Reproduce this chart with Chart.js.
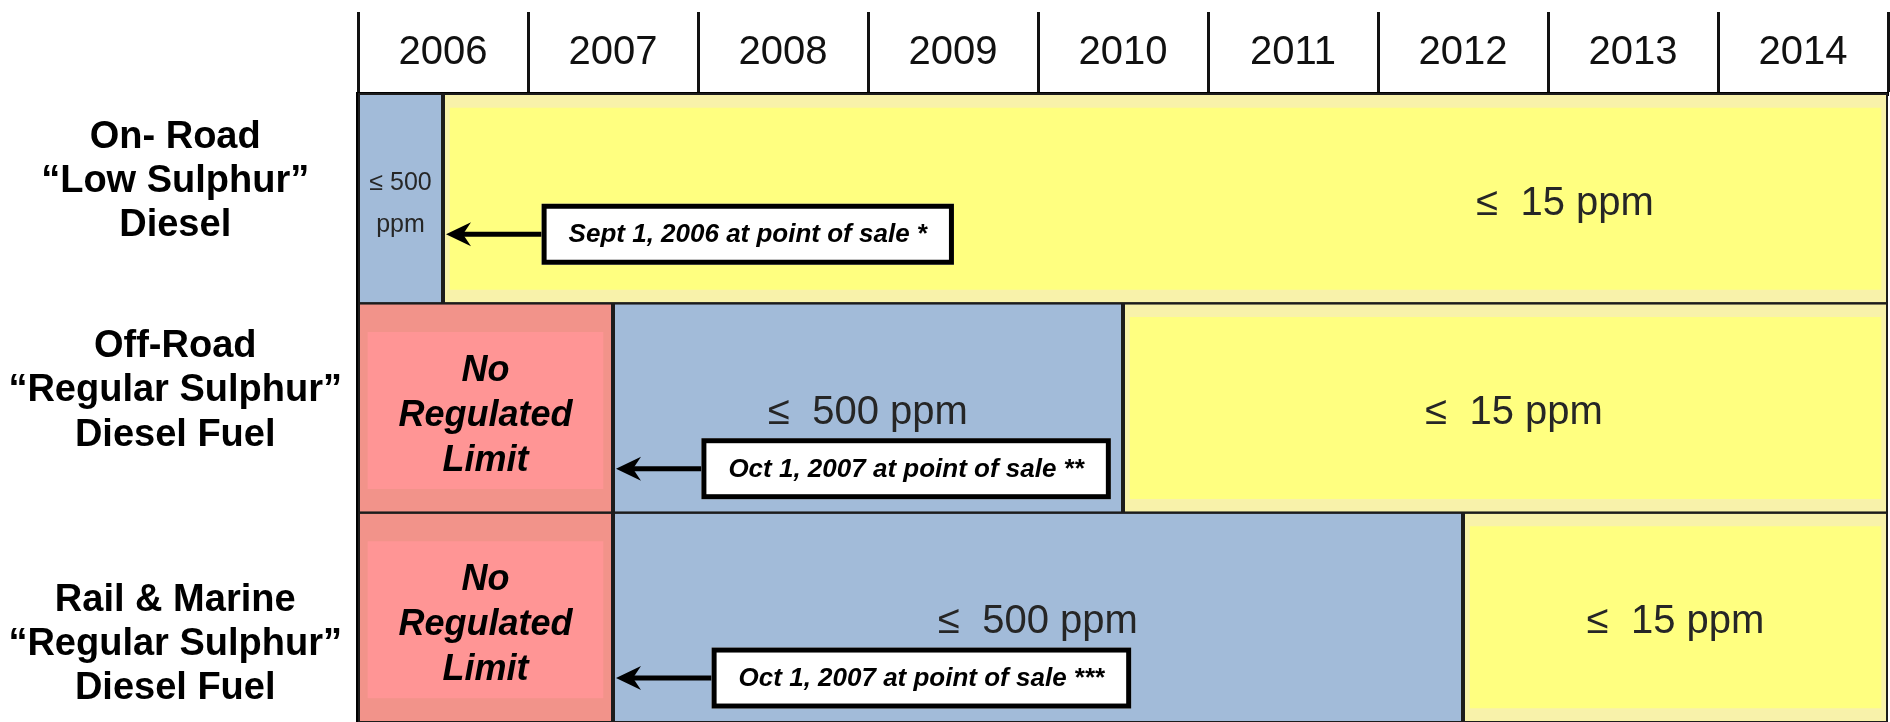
<!DOCTYPE html>
<html>
<head>
<meta charset="utf-8">
<script src="https://cdn.jsdelivr.net/npm/chart.js@4/dist/chart.umd.min.js"></script>
<style>
  html, body { margin: 0; background: #fff; }
  #wrap { width: 1890px; height: 722px; }
</style>
</head>
<body>
<div id="wrap"><canvas id="chart"></canvas></div>
<script>
var years = ['2006', '2007', '2008', '2009', '2010', '2011', '2012', '2013', '2014'];
var fuels = [
  ['On- Road', '\u201cLow Sulphur\u201d', 'Diesel'],
  ['Off-Road', '\u201cRegular Sulphur\u201d', 'Diesel Fuel'],
  ['Rail & Marine', '\u201cRegular Sulphur\u201d', 'Diesel Fuel']
];
// [from, to] in years, one per fuel row
var noLimit = [null, [2006, 2007.5], [2006, 2007.5]];
var ppm500 = [[2006, 2006.5], [2007.5, 2010.5], [2007.5, 2012.5]];
var ppm15 = [[2006.5, 2015], [2010.5, 2015], [2012.5, 2015]];
// callout notes
var notes = ['Sept 1, 2006 at point of sale *', 'Oct 1, 2007 at point of sale **', 'Oct 1, 2007 at point of sale ***'];
var noteAt = [2007.08, 2008.02, 2008.08];
var noteDrop = [0.17, 0.29, 0.29];
var ppm15TextAt = [2013.1, 2012.8, 2013.75];

var FONT = "'Liberation Sans', Arial, sans-serif";
Chart.defaults.font.family = FONT;

function noPadding(s) {
  s.paddingTop = 0;
  s.paddingBottom = 0;
  s.paddingLeft = 0;
  s.paddingRight = 0;
}

/* draws cell outlines, cell texts and the callout boxes */
var cellText = {
  id: 'cellText',
  afterDatasetsDraw: function (chart) {
    var ctx = chart.ctx, xs = chart.scales.x, ys = chart.scales.y;
    ctx.save();
    chart.data.datasets.forEach(function (ds, di) {
      chart.getDatasetMeta(di).data.forEach(function (bar, i) {
        if (!ds.data[i]) return;
        var p = bar.getProps(['x', 'y', 'base', 'height'], true);
        var l = Math.min(p.x, p.base), r = Math.max(p.x, p.base), t = p.y - p.height / 2;
        ctx.strokeStyle = '#1c1c1c';
        ctx.lineWidth = 2;
        ctx.strokeRect(l + 1, t, r - l - 2, p.height);

        var lines = ds.text, font = ds.textFont, lh = ds.lineH;
        if (r - l < 150) { lines = ds.textSmall; font = '25px ' + FONT; lh = 42; }
        var cx = (l + r) / 2;
        if (ds.textAt && ds.textAt[i]) cx = xs.getPixelForValue(ds.textAt[i]);
        ctx.font = font;
        ctx.fillStyle = ds.textColor;
        ctx.textAlign = 'center';
        ctx.textBaseline = 'middle';
        var y0 = p.y + ds.textDrop - (lines.length - 1) * lh / 2;
        lines.forEach(function (s, k) { ctx.fillText(s, cx, y0 + k * lh); });
      });
    });

    notes.forEach(function (txt, i) {
      var rowTop = ys.getPixelForValue(i - 0.5), rowBot = ys.getPixelForValue(i + 0.5);
      var cy = (rowTop + rowBot) / 2 + noteDrop[i] * (rowBot - rowTop);
      ctx.font = 'italic bold 26px ' + FONT;
      var w = ctx.measureText(txt).width + 54, h = 61;
      var bx = xs.getPixelForValue(noteAt[i]);

      // the boundary the note points at
      var target = 2006;
      [noLimit, ppm500, ppm15].forEach(function (arr) {
        if (arr[i] && arr[i][0] > target && arr[i][0] < noteAt[i]) target = arr[i][0];
      });
      var tip = xs.getPixelForValue(target) + 3;
      ctx.strokeStyle = '#000';
      ctx.fillStyle = '#000';
      ctx.lineWidth = 5;
      ctx.beginPath();
      ctx.moveTo(bx, cy);
      ctx.lineTo(tip + 14, cy);
      ctx.stroke();
      ctx.beginPath();
      ctx.moveTo(tip, cy);
      ctx.lineTo(tip + 25, cy - 12);
      ctx.lineTo(tip + 17, cy);
      ctx.lineTo(tip + 25, cy + 12);
      ctx.closePath();
      ctx.fill();

      ctx.fillStyle = '#fff';
      ctx.fillRect(bx, cy - h / 2, w, h);
      ctx.strokeRect(bx + 2.5, cy - h / 2 + 2.5, w - 5, h - 5);
      ctx.fillStyle = '#000';
      ctx.textAlign = 'center';
      ctx.textBaseline = 'middle';
      ctx.fillText(txt, bx + w / 2, cy + 1);
    });
    ctx.restore();
  }
};

new Chart(document.getElementById('chart'), {
  type: 'bar',
  data: {
    labels: fuels,
    datasets: [
      {
        label: 'No Regulated Limit',
        data: noLimit,
        backgroundColor: '#FF9595',
        borderColor: '#F2938A',
        borderWidth: { left: 10, right: 10, top: 29, bottom: 24 },
        text: ['No', 'Regulated', 'Limit'],
        textFont: 'italic bold 36px ' + FONT,
        lineH: 45,
        textDrop: 8,
        textColor: '#000'
      },
      {
        label: '\u2264 500 ppm',
        data: ppm500,
        backgroundColor: '#A2BBD9',
        borderWidth: 0,
        text: ['\u2264  500 ppm'],
        textSmall: ['\u2264 500', 'ppm'],
        textFont: '40px ' + FONT,
        lineH: 44,
        textDrop: 5,
        textColor: '#262626'
      },
      {
        label: '\u2264 15 ppm',
        data: ppm15,
        backgroundColor: '#FFFF80',
        borderColor: '#F8F2AA',
        borderWidth: { left: 7, right: 7, top: 14, bottom: 14 },
        text: ['\u2264  15 ppm'],
        textAt: ppm15TextAt,
        textFont: '40px ' + FONT,
        lineH: 44,
        textDrop: 5,
        textColor: '#262626'
      }
    ]
  },
  options: {
    indexAxis: 'y',
    responsive: true,
    maintainAspectRatio: false,
    animation: false,
    devicePixelRatio: 1,
    layout: { padding: { top: 12, right: 2, bottom: 0, left: 0 } },
    datasets: {
      bar: {
        grouped: false,
        barPercentage: 1,
        categoryPercentage: 1,
        borderSkipped: false,
        xAxisID: 'x'
      }
    },
    plugins: {
      legend: { display: false },
      tooltip: { enabled: false }
    },
    scales: {
      x: {
        type: 'linear',
        display: false,
        min: 2006,
        max: 2015
      },
      years: {
        type: 'category',
        axis: 'x',
        labels: years,
        position: 'top',
        offset: true,
        grid: {
          offset: true,
          drawOnChartArea: false,
          drawTicks: true,
          tickLength: 82,
          tickWidth: 3,
          tickColor: '#111'
        },
        border: { display: true, width: 4, color: '#000' },
        ticks: {
          color: '#111',
          font: { size: 40 },
          padding: -65,
          maxRotation: 0,
          autoSkip: false
        },
        afterFit: function (s) { s.height = 82; noPadding(s); }
      },
      y: {
        type: 'category',
        position: 'left',
        offset: true,
        z: 1,
        grid: {
          offset: true,
          drawTicks: false,
          color: '#000',
          lineWidth: 4
        },
        border: { display: true, width: 4, color: '#000' },
        ticks: {
          color: '#000',
          font: { size: 38, weight: 'bold', lineHeight: 1.16 },
          crossAlign: 'center',
          padding: 16,
          labelOffset: 5,
          callback: function (v, i) {
            var lab = fuels[i];
            return i === 2 ? [''].concat(lab) : lab.concat(['']);
          }
        },
        afterFit: function (s) { s.width = 358; noPadding(s); }
      }
    }
  },
  plugins: [cellText]
});
</script>
</body>
</html>
